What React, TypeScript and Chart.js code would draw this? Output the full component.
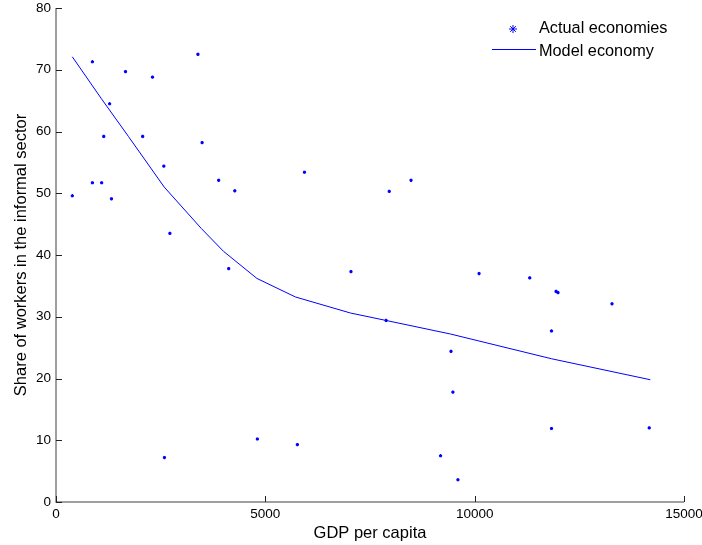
import React, { useEffect, useRef } from "react";
import { Chart, registerables } from "chart.js";

Chart.register(...registerables);

// Actual economies (GDP per capita, share of informal workers)
const actualGdp = [390, 870, 870, 1090, 1140, 1280, 1325, 1660, 2070, 2305, 2575, 2720, 3390, 3490, 3885, 4270, 5935, 8480, 7960, 4125, 7045, 2590, 4810, 5765, 10105, 11315, 11945, 11990, 13280, 7885, 11835, 9435, 9480, 11835, 14170, 9185, 9600];
const actualShare = [49.6, 71.3, 51.7, 51.7, 59.2, 64.5, 49.1, 69.7, 59.2, 68.8, 54.4, 43.5, 72.5, 58.2, 52.1, 50.4, 53.4, 52.1, 50.3, 37.8, 37.3, 7.2, 10.2, 9.3, 37.0, 36.3, 34.1, 33.9, 32.1, 29.4, 27.7, 24.4, 17.8, 11.9, 12.0, 7.5, 3.6];

// Model economy
const modelGdp = [390, 1075, 1730, 2585, 3470, 4000, 4800, 5720, 7035, 7885, 9425, 11835, 14195];
const modelShare = [72.1, 65.4, 59.2, 51.0, 44.3, 40.6, 36.2, 33.2, 30.6, 29.4, 27.2, 23.2, 19.8];

const xTicks = [0, 5000, 10000, 15000];
const yTicks = [0, 10, 20, 30, 40, 50, 60, 70, 80];

const legendLabels = ["Actual economies", "Model economy"];
const xTitle = "GDP per capita";
const yTitle = "Share of workers in the informal sector";

const FONT = "'Liberation Sans', Arial, Helvetica, sans-serif";
const BLUE = "#0000ff";

const axesPlugin = {
  id: "matlabAxes",
  afterDraw(chart: any) {
    const { ctx, chartArea, scales } = chart;
    const xs = scales.x;
    const ys = scales.y;
    ctx.save();
    // axis lines
    ctx.strokeStyle = "#808080";
    ctx.lineWidth = 1.5;
    ctx.beginPath();
    ctx.moveTo(chartArea.left, chartArea.top);
    ctx.lineTo(chartArea.left, chartArea.bottom);
    ctx.lineTo(chartArea.right, chartArea.bottom);
    ctx.stroke();
    // ticks (inward)
    ctx.strokeStyle = "#222";
    ctx.lineWidth = 1;
    ctx.beginPath();
    yTicks.forEach((v) => {
      const y = Math.round(ys.getPixelForValue(v)) + 0.5;
      ctx.moveTo(chartArea.left, y);
      ctx.lineTo(chartArea.left + 6, y);
    });
    xTicks.forEach((v) => {
      const x = Math.round(xs.getPixelForValue(v)) + 0.5;
      ctx.moveTo(x, chartArea.bottom);
      ctx.lineTo(x, chartArea.bottom - 6);
    });
    ctx.stroke();

    // legend
    const lx = 513;
    const ly1 = 29;
    const ly2 = 50;
    ctx.strokeStyle = BLUE;
    ctx.lineWidth = 1;
    ctx.beginPath();
    for (let i = 0; i < 4; i++) {
      const a = (i * Math.PI) / 4;
      ctx.moveTo(lx - 4 * Math.cos(a), ly1 - 4 * Math.sin(a));
      ctx.lineTo(lx + 4 * Math.cos(a), ly1 + 4 * Math.sin(a));
    }
    ctx.stroke();
    ctx.beginPath();
    ctx.moveTo(492, ly2 - 0.5);
    ctx.lineTo(536, ly2 - 0.5);
    ctx.stroke();
    ctx.fillStyle = "#000";
    ctx.font = `16.3px ${FONT}`;
    ctx.textAlign = "left";
    ctx.textBaseline = "middle";
    ctx.fillText(legendLabels[0], 539, ly1);
    ctx.fillText(legendLabels[1], 539, ly2 + 2);
    ctx.restore();
  },
};

export default function App() {
  const ref = useRef<HTMLCanvasElement | null>(null);

  useEffect(() => {
    if (!ref.current) return;
    const chart = new Chart(ref.current, {
      type: "scatter",
      data: {
        datasets: [
          {
            type: "scatter",
            label: legendLabels[0],
            data: actualGdp.map((x, i) => ({ x, y: actualShare[i] })),
            pointStyle: "star",
            radius: 1.6,
            borderWidth: 1.6,
            borderColor: BLUE,
            backgroundColor: BLUE,
          },
          {
            type: "line",
            label: legendLabels[1],
            data: modelGdp.map((x, i) => ({ x, y: modelShare[i] })),
            borderColor: BLUE,
            borderWidth: 1,
            pointRadius: 0,
            fill: false,
            tension: 0,
          },
        ],
      },
      options: {
        animation: false,
        responsive: true,
        maintainAspectRatio: false,
        layout: { padding: { top: 8, right: 18, left: 0, bottom: 0 } },
        plugins: { legend: { display: false }, tooltip: { enabled: false } },
        scales: {
          x: {
            type: "linear",
            min: 0,
            max: 15000,
            afterBuildTicks: (s: any) => {
              s.ticks = xTicks.map((v) => ({ value: v }));
            },
            afterFit: (s: any) => {
              s.height = 43;
              s.paddingLeft = 0;
              s.paddingRight = 0;
            },
            grid: { display: false, drawTicks: false },
            border: { display: false },
            ticks: {
              padding: 4,
              color: "#000",
              font: { family: FONT, size: 13.5 },
              callback: (v: any) => String(v),
            },
            title: {
              display: true,
              text: xTitle,
              color: "#000",
              font: { family: FONT, size: 16.5 },
              padding: { top: 0, bottom: 2 },
            },
          },
          y: {
            type: "linear",
            min: 0,
            max: 80,
            afterBuildTicks: (s: any) => {
              s.ticks = yTicks.map((v) => ({ value: v }));
            },
            afterFit: (s: any) => {
              s.width = 56;
              s.paddingTop = 0;
              s.paddingBottom = 0;
            },
            grid: { display: false, drawTicks: false },
            border: { display: false },
            ticks: {
              padding: 5,
              color: "#000",
              font: { family: FONT, size: 13.5 },
              callback: (v: any) => String(v),
            },
            title: {
              display: true,
              text: yTitle,
              color: "#000",
              font: { family: FONT, size: 16.5 },
              padding: { top: 12, bottom: 0 },
            },
          },
        },
      },
      plugins: [axesPlugin],
    });
    return () => chart.destroy();
  }, []);

  return (
    <div style={{ position: "fixed", left: 0, top: 0, width: 702, height: 545, background: "#fff" }}>
      <canvas ref={ref} />
    </div>
  );
}
